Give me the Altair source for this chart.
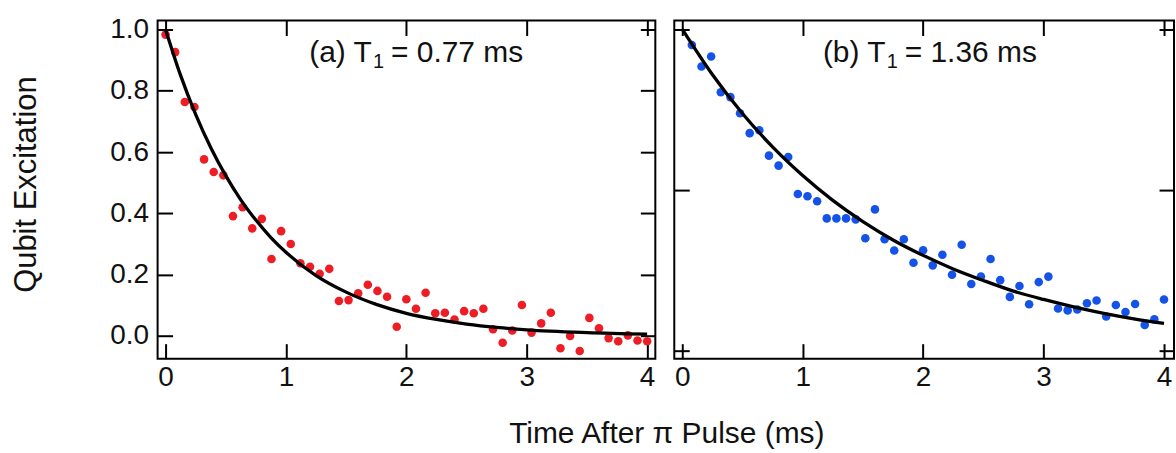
import altair as alt
import pandas as pd

# ---------------- data ----------------
# Panel (a): measured qubit excitation (red)
t_a = [0.00, 0.08, 0.16, 0.24, 0.32, 0.40, 0.48, 0.56, 0.64, 0.72, 0.80, 0.88, 0.96,
       1.04, 1.12, 1.20, 1.28, 1.36, 1.44, 1.52, 1.60, 1.68, 1.76, 1.84, 1.92, 2.00,
       2.08, 2.16, 2.24, 2.32, 2.40, 2.48, 2.56, 2.64, 2.72, 2.80, 2.88, 2.96, 3.04,
       3.12, 3.20, 3.28, 3.36, 3.44, 3.52, 3.60, 3.68, 3.76, 3.84, 3.92, 4.00]
v_a = [0.983, 0.926, 0.763, 0.747, 0.576, 0.535, 0.524, 0.391, 0.420, 0.351, 0.382,
       0.251, 0.342, 0.300, 0.237, 0.226, 0.203, 0.219, 0.114, 0.117, 0.139, 0.167,
       0.147, 0.128, 0.030, 0.120, 0.089, 0.141, 0.074, 0.076, 0.054, 0.081, 0.074,
       0.089, 0.022, -0.022, 0.018, 0.101, 0.011, 0.041, 0.076, -0.040, 0.000, -0.049,
       0.059, 0.025, -0.007, -0.017, 0.002, -0.015, -0.017]

# Panel (a): fitted decay curve (black)
fit_t_a = [0.0, 0.125, 0.25, 0.375, 0.5, 0.625, 0.75, 0.875, 1.0, 1.25, 1.5, 1.75,
           2.0, 2.25, 2.5, 2.75, 3.0, 3.5, 4.0]
fit_v_a = [1.000, 0.850, 0.723, 0.615, 0.523, 0.444, 0.378, 0.321, 0.273, 0.197,
           0.143, 0.103, 0.074, 0.054, 0.039, 0.028, 0.020, 0.011, 0.006]

# Panel (b): measured qubit excitation (blue)
t_b = [0.08, 0.16, 0.24, 0.32, 0.40, 0.48, 0.56, 0.64, 0.72, 0.80, 0.88, 0.96, 1.04,
       1.12, 1.20, 1.28, 1.36, 1.44, 1.52, 1.60, 1.68, 1.76, 1.84, 1.92, 2.00, 2.08,
       2.16, 2.24, 2.32, 2.40, 2.48, 2.56, 2.64, 2.72, 2.80, 2.88, 2.96, 3.04, 3.12,
       3.20, 3.28, 3.36, 3.44, 3.52, 3.60, 3.68, 3.76, 3.84, 3.92, 4.00]
v_b = [0.951, 0.884, 0.915, 0.804, 0.789, 0.739, 0.677, 0.686, 0.607, 0.576, 0.603,
       0.488, 0.481, 0.465, 0.412, 0.412, 0.412, 0.409, 0.350, 0.440, 0.347, 0.312,
       0.347, 0.274, 0.313, 0.266, 0.299, 0.237, 0.330, 0.208, 0.231, 0.286, 0.220,
       0.168, 0.202, 0.145, 0.214, 0.231, 0.132, 0.126, 0.129, 0.148, 0.157, 0.107,
       0.143, 0.121, 0.146, 0.081, 0.098, 0.160]

# Panel (b): fitted decay curve (black)
fit_t_b = [0.0, 0.25, 0.5, 0.75, 1.0, 1.25, 1.5, 1.75, 2.0, 2.25, 2.5, 2.75, 3.0,
           3.25, 3.5, 3.75, 4.0]
fit_v_b = [1.000, 0.859, 0.738, 0.634, 0.545, 0.468, 0.402, 0.345, 0.297, 0.255,
           0.219, 0.186, 0.160, 0.137, 0.117, 0.100, 0.086]

x_ticks = [0, 1, 2, 3, 4]
y_ticks_a = [0.0, 0.2, 0.4, 0.6, 0.8, 1.0]
y_ticks_b = [0.0, 0.5, 1.0]

# annotation pieces: prefix, subscript, suffix
ann_a = ["(a) T", "1", "= 0.77 ms"]
ann_b = ["(b) T", "1", "= 1.36 ms"]
x_title = "Time After \u03c0 Pulse (ms)"
y_title = "Qubit Excitation"

RED = "#ee1c24"
BLUE = "#1452e8"
FONT = "Liberation Sans"
INK = "#111111"
TICK = 15

pts_a = pd.DataFrame({"t": t_a, "v": v_a})
fit_a = pd.DataFrame({"t": fit_t_a, "v": fit_v_a})
pts_b = pd.DataFrame({"t": t_b, "v": v_b})
fit_b = pd.DataFrame({"t": fit_t_b, "v": fit_v_b})


def inward(orient, values, labels=False, **kw):
    return alt.Axis(orient=orient, values=values, labels=labels, offset=-TICK,
                    tickSize=TICK, domain=False, grid=False, **kw)


def note(s, x, y, size):
    return alt.Chart(pd.DataFrame({"s": [s]})).mark_text(
        font=FONT, fontSize=size, align="left", baseline="alphabetic", color=INK
    ).encode(x=alt.value(x), y=alt.value(y), text="s:N")


def panel(pts, fit, color, xs, ys, xaxis, yaxis, topvals, rightvals, ann, x0, w):
    points = alt.Chart(pts).mark_circle(size=74, color=color, opacity=1).encode(
        x=alt.X("t:Q", scale=xs, axis=xaxis),
        y=alt.Y("v:Q", scale=ys, axis=yaxis),
    )
    curve = alt.Chart(fit).mark_line(color="black", strokeWidth=3.3,
                                     interpolate="monotone").encode(
        x=alt.X("t:Q", scale=xs, axis=inward("top", topvals, title=None)),
        y=alt.Y("v:Q", scale=ys, axis=inward("right", rightvals, title=None)),
    )
    t1 = note(ann[0], x0, 42, 30)
    t2 = note(ann[1], x0 + 64, 48, 20)
    t3 = note(ann[2], x0 + 82, 42, 30)
    return alt.layer(points, curve, t1, t2, t3).resolve_axis(
        x="independent", y="independent").properties(width=w, height=339)


xs_a = alt.Scale(domain=[-0.066, 4.068], nice=False, zero=False)
ys_a = alt.Scale(domain=[-0.074, 1.029], nice=False, zero=False)
xs_b = alt.Scale(domain=[-0.066, 4.083], nice=False, zero=False)
ys_b = alt.Scale(domain=[-0.024, 1.027], nice=False, zero=False)

xaxis_a = inward("bottom", x_ticks, labels=True, format="d", labelPadding=5,
                 title=x_title, titleX=510, titleY=99, titleAlign="center",
                 titleBaseline="alphabetic", titleAngle=0)
yaxis_a = inward("left", y_ticks_a, labels=True, format=".1f", labelPadding=9,
                 title=y_title, titleX=-137, titleY=164, titleAlign="center",
                 titleBaseline="alphabetic", titleAngle=270, titleFontSize=31)
xaxis_b = inward("bottom", x_ticks, labels=True, format="d", labelPadding=5, title=None)
yaxis_b = inward("left", y_ticks_b, title=None)

left = panel(pts_a, fit_a, RED, xs_a, ys_a, xaxis_a, yaxis_a,
             x_ticks, y_ticks_a, ann_a, 152, 499)
right = panel(pts_b, fit_b, BLUE, xs_b, ys_b, xaxis_b, yaxis_b,
              x_ticks, y_ticks_b, ann_b, 149, 501)

chart = alt.hconcat(left, right, spacing=19, bounds="flush").properties(
    padding={"left": 10, "top": 13, "right": 0, "bottom": 0}
).configure_view(
    stroke="black", strokeWidth=2
).configure_axis(
    labelFont=FONT, titleFont=FONT, labelFontSize=28, titleFontSize=30,
    titleFontWeight="normal", labelColor=INK, titleColor=INK,
    tickColor="black", tickWidth=2
)

chart.save("out.html", embed_options={"renderer": "svg", "actions": False})
